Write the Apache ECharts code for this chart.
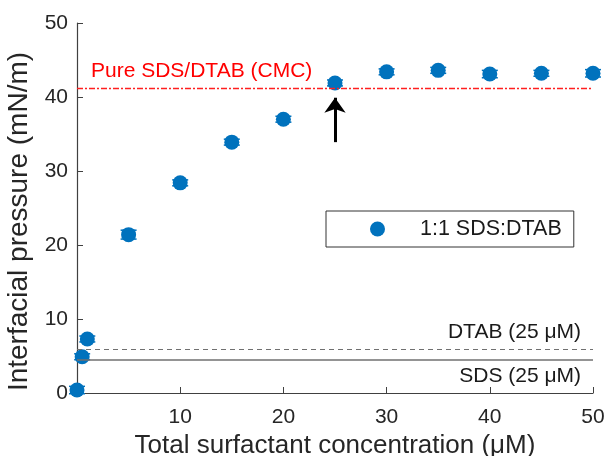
<!DOCTYPE html>
<html>
<head>
<meta charset="utf-8">
<script src="https://cdn.jsdelivr.net/npm/echarts@6/dist/echarts.min.js"></script>
<style>html,body{margin:0;padding:0;background:#fff;}#c{width:607px;height:456px;}</style>
</head>
<body>
<div id="c"></div>
<script>
var concentrations = [0, 0.5, 1, 5, 10, 15, 20, 25, 30, 35, 40, 45, 50];
var pressures = [0.4, 4.9, 7.3, 21.4, 28.4, 33.9, 37.0, 41.9, 43.4, 43.6, 43.1, 43.2, 43.2];
var errors = [0.5, 0.4, 0.4, 0.6, 0.4, 0.4, 0.4, 0.4, 0.4, 0.4, 0.5, 0.4, 0.5];
var cmcLevel = 41.2;
var dtabLevel = 5.95;
var sdsLevel = 4.45;
var arrowX = 25;
var arrowFrom = 33.9;
var arrowTo = 39.9;
var xTicks = [0, 10, 20, 30, 40, 50];
var yTicks = [0, 10, 20, 30, 40, 50];
var seriesName = '1:1 SDS:DTAB';

var font = 'Liberation Sans, Arial, Helvetica, sans-serif';
var blue = '#0072BD';
var axisCol = '#404040';

var points = concentrations.map(function (c, i) { return [c, pressures[i]]; });
var errData = concentrations.map(function (c, i) { return [c, pressures[i] - errors[i], pressures[i] + errors[i]]; });

function hLine(level, color, textColor, width, type, text, pos, dist) {
  return {
    type: 'line', data: [], silent: true, color: color,
    markLine: {
      silent: true, symbol: ['none', 'none'],
      itemStyle: { color: color },
      lineStyle: { color: color, width: width, type: type, opacity: 1 },
      label: { show: true, formatter: text, position: pos, color: textColor, fontSize: 21, fontFamily: font, distance: dist },
      data: [{ yAxis: level, lineStyle: { color: color } }]
    }
  };
}

var chart = echarts.init(document.getElementById('c'));
chart.setOption({
  animation: false,
  backgroundColor: '#fff',
  textStyle: { fontFamily: font },
  grid: { left: 77, right: 14, top: 23, bottom: 63, containLabel: false, outerBoundsMode: 'none' },
  legend: {
    data: [{ name: seriesName, icon: 'circle' }],
    left: 326, top: 211,
    itemWidth: 15, itemHeight: 15,
    padding: [7, 12, 7, 44],
    borderColor: '#333', borderWidth: 1,
    backgroundColor: '#fff',
    textStyle: { fontSize: 21.5, color: '#1a1a1a', fontFamily: font, padding: [0, 0, 0, 30] }
  },
  xAxis: {
    type: 'value', min: xTicks[0], max: xTicks[xTicks.length - 1], interval: 10,
    name: 'Total surfactant concentration (μM)', nameLocation: 'middle', nameGap: 35,
    nameTextStyle: { fontSize: 26, color: '#262626', fontFamily: font },
    axisLine: { lineStyle: { color: axisCol, width: 1.2 } },
    axisTick: { inside: true, length: 6, lineStyle: { color: axisCol } },
    axisLabel: { fontSize: 21, color: '#262626', margin: 14, formatter: function (v) { return v === 0 ? '' : v; } },
    splitLine: { show: false }
  },
  yAxis: {
    type: 'value', min: yTicks[0], max: yTicks[yTicks.length - 1], interval: 10,
    name: 'Interfacial pressure (mN/m)', nameLocation: 'middle', nameGap: 42,
    nameTextStyle: { fontSize: 28, color: '#262626', fontFamily: font, padding: [0, 27, 0, 0] },
    axisLine: { show: true, lineStyle: { color: axisCol, width: 1.2 } },
    axisTick: { show: true, inside: true, length: 6, lineStyle: { color: axisCol } },
    axisLabel: { fontSize: 21, color: '#262626', margin: 9 },
    splitLine: { show: false }
  },
  series: [
    hLine(cmcLevel, '#ff2020', '#ff0000', 1.3, [6, 2, 2, 2], 'Pure SDS/DTAB (CMC)', 'insideStartTop', [14, 6]),
    hLine(dtabLevel, '#707070', '#1a1a1a', 1.2, [5, 4], 'DTAB (25 μM)', 'insideEndTop', [12, 6]),
    hLine(sdsLevel, '#707070', '#1a1a1a', 1.5, 'solid', 'SDS (25 μM)', 'insideEndBottom', [12, 6]),
    {
      type: 'line', data: [], silent: true, color: '#000',
      markLine: {
        silent: true, symbol: ['none', 'arrow'], symbolSize: [16, 15],
        lineStyle: { color: '#000', width: 3, type: 'solid' },
        itemStyle: { color: '#000' },
        label: { show: false },
        data: [[{ coord: [arrowX, arrowFrom] }, { coord: [arrowX, arrowTo] }]]
      }
    },
    {
      type: 'custom', silent: true, z: 3,
      data: errData,
      renderItem: function (params, api) {
        var x = api.value(0);
        var lo = api.coord([x, api.value(1)]);
        var hi = api.coord([x, api.value(2)]);
        var hw = 8;
        var st = { stroke: blue, lineWidth: 1.5 };
        return {
          type: 'group',
          children: [
            { type: 'line', shape: { x1: lo[0], y1: lo[1], x2: hi[0], y2: hi[1] }, style: st },
            { type: 'line', shape: { x1: lo[0] - hw, y1: lo[1], x2: lo[0] + hw, y2: lo[1] }, style: st },
            { type: 'line', shape: { x1: hi[0] - hw, y1: hi[1], x2: hi[0] + hw, y2: hi[1] }, style: st }
          ]
        };
      }
    },
    {
      name: seriesName, type: 'scatter', z: 4,
      data: points, symbol: 'circle', symbolSize: 15,
      itemStyle: { color: blue, opacity: 1 }
    }
  ]
});
</script>
</body>
</html>
